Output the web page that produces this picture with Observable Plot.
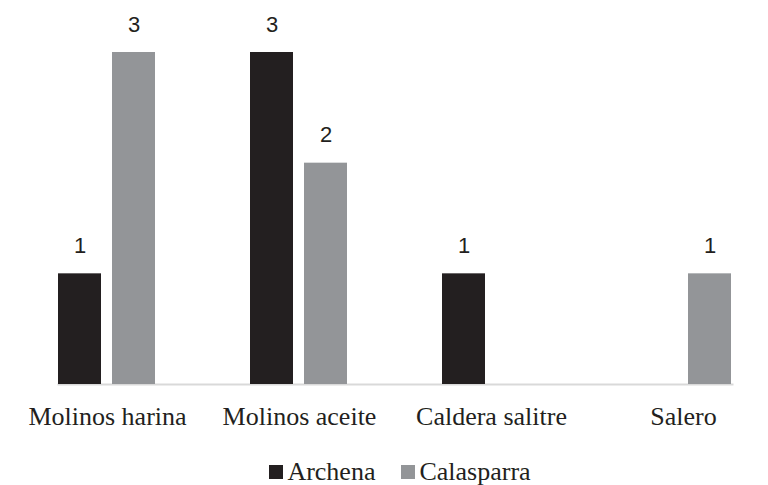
<!DOCTYPE html>
<html>
<head>
<meta charset="utf-8">
<script src="https://cdn.jsdelivr.net/npm/d3@7"></script>
<script src="https://cdn.jsdelivr.net/npm/@observablehq/plot@0.6"></script>
<style>
  html, body { margin: 0; padding: 0; background: #fff; }
  #chart { width: 768px; overflow: hidden; }
  .legend {
    display: flex; justify-content: center; align-items: center;
    font-family: "Liberation Serif", "Times New Roman", serif;
    font-size: 26px; color: #231f20; height: 30px; margin-top: 12px;
    padding-left: 32px; gap: 26px;
  }
  .legend .item { display: flex; align-items: center; gap: 4px; }
  .legend .swatch { width: 14px; height: 14px; display: inline-block; }
</style>
</head>
<body>
<div id="chart"></div>
<script>
// Categories and counts per town
const categories = ["Molinos harina", "Molinos aceite", "Caldera salitre", "Salero"];
const series = ["Archena", "Calasparra"];
const archena = [1, 3, 1, 0];
const calasparra = [3, 2, 0, 1];
const colors = ["#231f20", "#939598"];

const data = categories.flatMap((c, i) => [
  {category: c, series: "Archena", value: archena[i]},
  {category: c, series: "Calasparra", value: calasparra[i]}
]);

const chart = Plot.plot({
  width: 768,
  height: 445,
  marginTop: 52,
  marginBottom: 61,
  marginLeft: 10,
  marginRight: -12,
  style: {fontFamily: "'Liberation Serif', 'Times New Roman', serif", fontSize: "26px", color: "#231f20"},
  fx: {domain: categories, paddingInner: 0.49, paddingOuter: 0.245, label: null, tickSize: 0, tickPadding: 22},
  x: {domain: series, axis: null, paddingInner: 0.2, paddingOuter: 0},
  y: {domain: [0, 3], axis: null},
  color: {domain: series, range: colors},
  marks: [
    // baseline across the whole plot width
    Plot.frame({anchor: "bottom", stroke: "#d9d9d9", strokeWidth: 2, facet: "super"}),
    Plot.barY(data, {fx: "category", x: "series", y: "value", fill: "series"}),
    Plot.text(data.filter(d => d.value > 0), {
      fx: "category", x: "series", y: "value", text: d => String(d.value),
      dy: -28, fontSize: 22, fontFamily: "'Liberation Sans', Arial, sans-serif", fill: "#231f20"
    })
  ]
});
document.getElementById("chart").appendChild(chart);

// Legend below the chart
const legend = document.createElement("div");
legend.className = "legend";
series.forEach((s, i) => {
  const item = document.createElement("span");
  item.className = "item";
  const sw = document.createElement("span");
  sw.className = "swatch";
  sw.style.background = colors[i];
  const label = document.createElement("span");
  label.textContent = s;
  item.appendChild(sw);
  item.appendChild(label);
  legend.appendChild(item);
});
document.getElementById("chart").appendChild(legend);
</script>
</body>
</html>
